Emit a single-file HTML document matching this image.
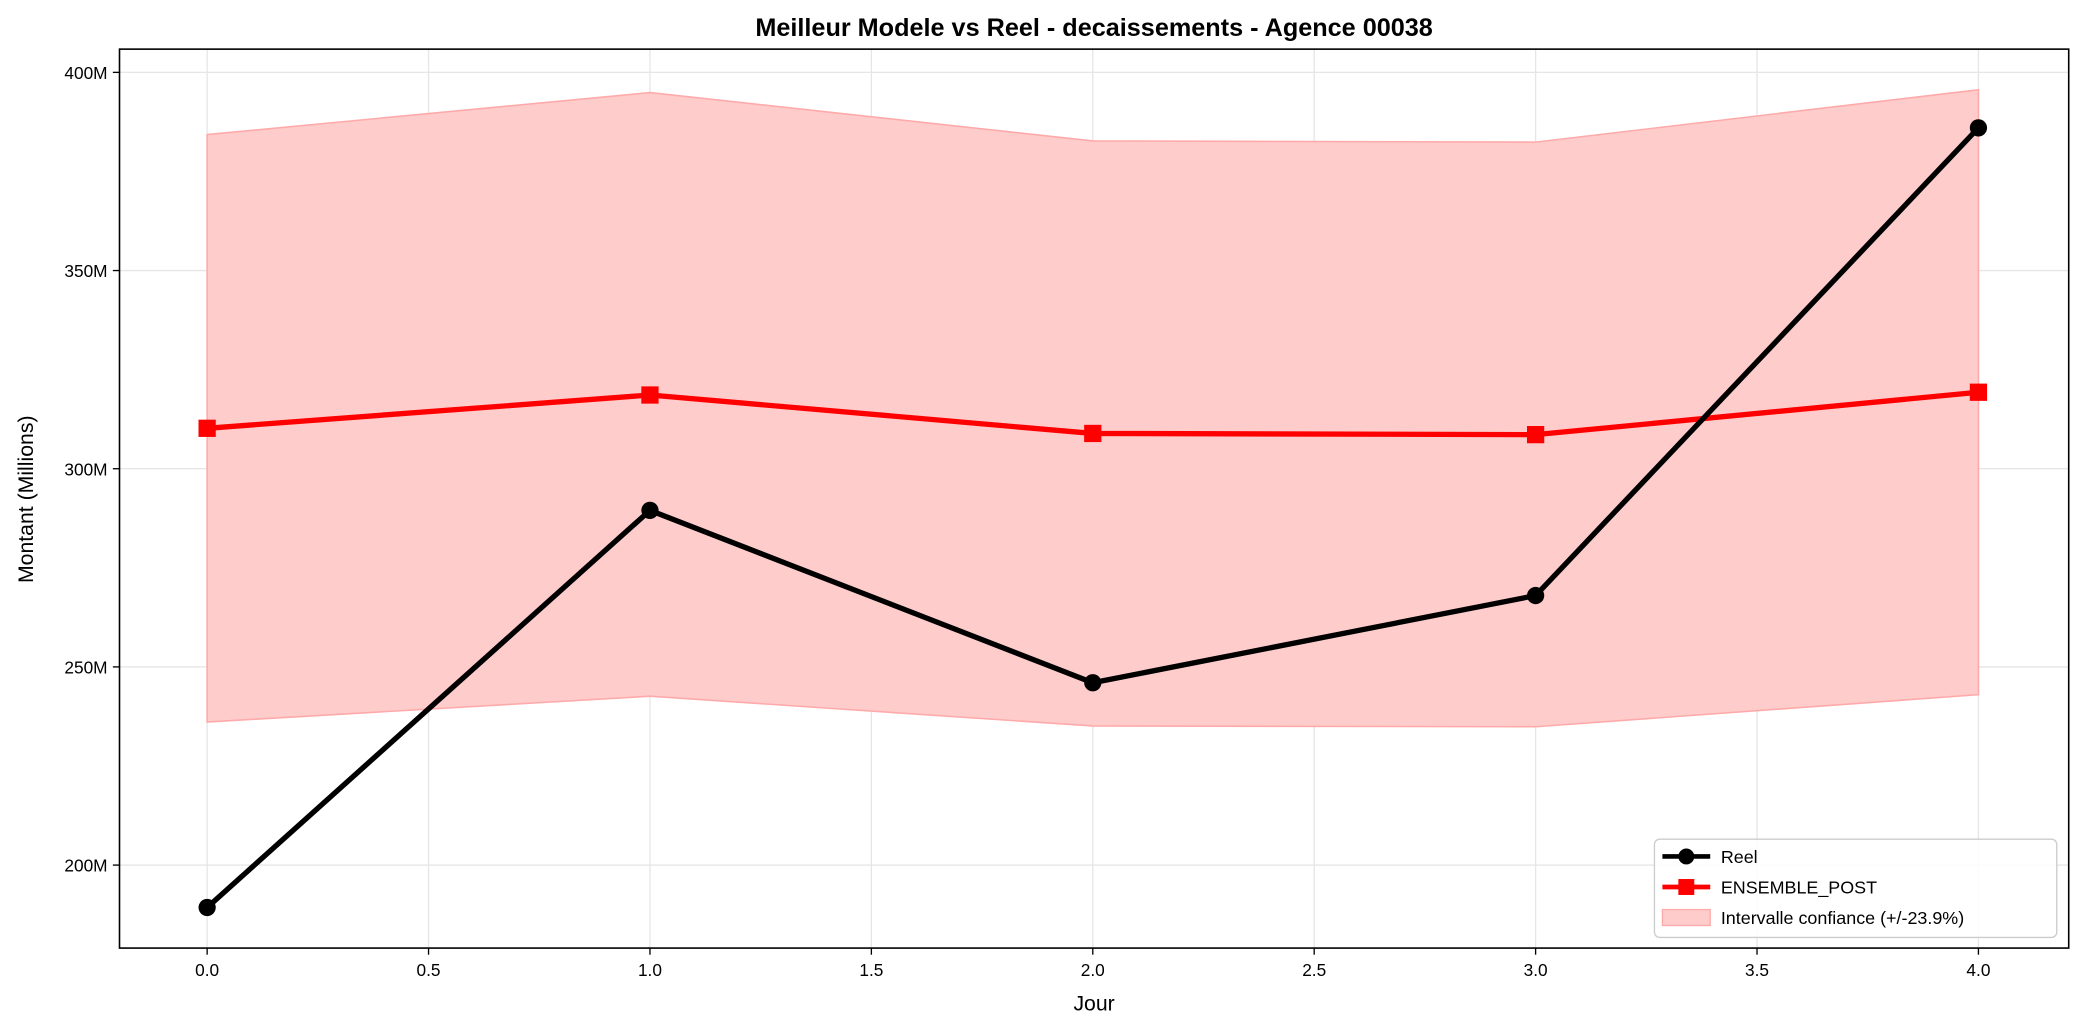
<!DOCTYPE html>
<html><head><meta charset="utf-8"><style>
body{margin:0;background:#fff;}
svg{display:block;font-family:"Liberation Sans","DejaVu Sans",sans-serif;}
</style></head><body>
<svg id="chart" width="2082" height="1030" viewBox="0 0 1568 775.7" preserveAspectRatio="none">
<rect width="1568" height="775.7" fill="#fff"/>
<text x="824" y="27" text-anchor="middle" font-size="19" font-weight="bold">Meilleur Modele vs Reel - decaissements - Agence 00038</text>
<g id="grid"></g>
<g id="band"></g>
<g id="series"></g>
<rect x="90" y="37" width="1468" height="677" fill="none" stroke="#000" stroke-width="1.2"/>
<g id="ticks"></g>
<text x="824" y="761" text-anchor="middle" font-size="16">Jour</text>
<text transform="translate(25,376) rotate(-90)" text-anchor="middle" font-size="16">Montant (Millions)</text>
<g>
<rect x="1246" y="632" width="303" height="74" rx="4" fill="#fff" fill-opacity="0.85" stroke="#ccc"/>
<g>
<line x1="1252" y1="645" x2="1288" y2="645" stroke="#000" stroke-width="3.5"/><circle cx="1270" cy="645" r="6" fill="#000"/>
<text x="1296" y="650" font-size="13.5">Reel</text></g>
<g>
<line x1="1252" y1="668" x2="1288" y2="668" stroke="#f00" stroke-width="3.5"/><rect x="1264" y="662" width="12" height="12" fill="#f00"/>
<text x="1296" y="673" font-size="13.5">ENSEMBLE_POST</text></g>
<g>
<rect x="1252" y="685" width="36" height="12" fill="#ffcccc" stroke="#ffaaaa"/>
<text x="1296" y="696" font-size="13.5">Intervalle confiance (+/-23.9%)</text></g>
</g>
</svg>
<script>
const days=[0,1,2,3,4];
const reel=[189.3,289.5,246.0,268.0,386.0];
const ensemble=[310.2,318.6,308.9,308.6,319.3];
const lower=[236.1,242.6,235.1,234.9,243.0];
const upper=[384.3,394.9,382.7,382.4,395.6];
const xTicks=[0,0.5,1,1.5,2,2.5,3,3.5,4];
const yTicks=[200,250,300,350,400];
const NS="http://www.w3.org/2000/svg";
const X=v=>156+(v-0)*333.5;
const Y=v=>353-(v-300)*2.985;
function mk(tag,attrs,parent){const e=document.createElementNS(NS,tag);for(const k in attrs)e.setAttribute(k,attrs[k]);parent.appendChild(e);return e;}
const grid=document.getElementById('grid'),ticks=document.getElementById('ticks'),band=document.getElementById('band'),series=document.getElementById('series');
xTicks.forEach(t=>{
 const g=mk('line',{x1:X(t),x2:X(t),y1:37,y2:714,stroke:'#e6e6e6','stroke-width':1},grid);
 
 
 mk('line',{x1:X(t),x2:X(t),y1:714,y2:719,stroke:'#000'},ticks);
 const tx=mk('text',{x:X(t),y:735,'text-anchor':'middle','font-size':13},ticks);
 tx.textContent=t.toFixed(1);
 
 
});
yTicks.forEach(t=>{
 const g=mk('line',{x1:90,x2:1558,y1:Y(t),y2:Y(t),stroke:'#e6e6e6','stroke-width':1},grid);
 
 
 mk('line',{x1:85,x2:90,y1:Y(t),y2:Y(t),stroke:'#000'},ticks);
 const tx=mk('text',{x:81,y:Y(t)+5,'text-anchor':'end','font-size':13},ticks);
 tx.textContent=t+'M';
 
 
});
let pts=days.map((d,i)=>X(d)+','+Y(upper[i])).concat(days.slice().reverse().map((d,j)=>{const i=days.length-1-j;return X(d)+','+Y(lower[i]);}));
const poly=mk('polygon',{points:pts.join(' '),fill:'#ffcccc',stroke:'#ffaaaa','stroke-width':1.2},band);


const l2=mk('polyline',{points:days.map((d,i)=>X(d)+','+Y(ensemble[i])).join(' '),fill:'none',stroke:'#f00','stroke-width':4,'stroke-linejoin':'round'},series);


days.forEach((d,i)=>{const r=mk('rect',{x:X(d)-6.5,y:Y(ensemble[i])-6.5,width:13,height:13,fill:'#f00'},series);
 
 });
const l1=mk('polyline',{points:days.map((d,i)=>X(d)+','+Y(reel[i])).join(' '),fill:'none',stroke:'#000','stroke-width':4,'stroke-linejoin':'round'},series);


days.forEach((d,i)=>{const c=mk('circle',{cx:X(d),cy:Y(reel[i]),r:6.5,fill:'#000'},series);
 
 });
</script>
</body></html>
